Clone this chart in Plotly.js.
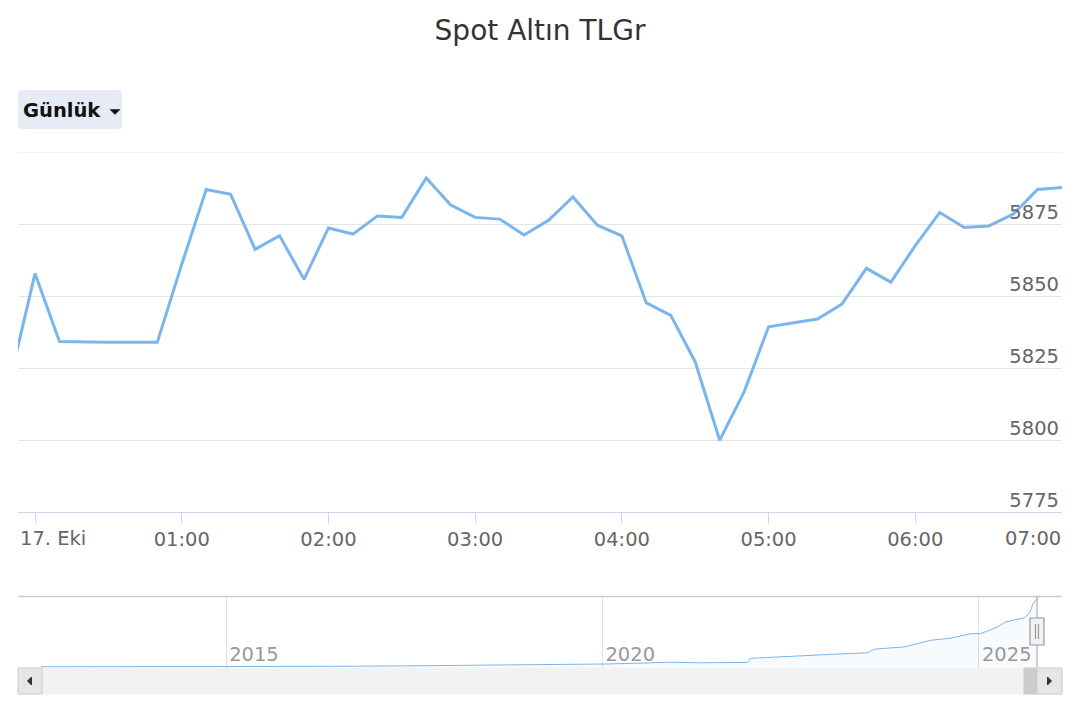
<!DOCTYPE html>
<html>
<head>
<meta charset="utf-8">
<script src="https://cdn.plot.ly/plotly-3.0.1.min.js"></script>
<style>
html,body{margin:0;padding:0;background:#fff;}
#chart{width:1080px;height:720px;}
</style>
</head>
<body>
<div id="chart"></div>
<script>
// ---------- data ----------
const chartTitle = 'Spot Altın TLGr';
const periodLabel = 'Günlük';

const times = [
  '2025-10-16 23:50',
  '2025-10-17 00:00','2025-10-17 00:10','2025-10-17 00:20','2025-10-17 00:30','2025-10-17 00:40','2025-10-17 00:50',
  '2025-10-17 01:00','2025-10-17 01:10','2025-10-17 01:20','2025-10-17 01:30','2025-10-17 01:40','2025-10-17 01:50',
  '2025-10-17 02:00','2025-10-17 02:10','2025-10-17 02:20','2025-10-17 02:30','2025-10-17 02:40','2025-10-17 02:50',
  '2025-10-17 03:00','2025-10-17 03:10','2025-10-17 03:20','2025-10-17 03:30','2025-10-17 03:40','2025-10-17 03:50',
  '2025-10-17 04:00','2025-10-17 04:10','2025-10-17 04:20','2025-10-17 04:30','2025-10-17 04:40','2025-10-17 04:50',
  '2025-10-17 05:00','2025-10-17 05:10','2025-10-17 05:20','2025-10-17 05:30','2025-10-17 05:40','2025-10-17 05:50',
  '2025-10-17 06:00','2025-10-17 06:10','2025-10-17 06:20','2025-10-17 06:30','2025-10-17 06:40','2025-10-17 06:50',
  '2025-10-17 07:00'
];
const prices = [
  5821.6,
  5857.8, 5834.2, 5834.0, 5833.9, 5833.9, 5833.9,
  5861.0, 5887.0, 5885.3, 5866.2, 5870.9, 5855.8,
  5873.6, 5871.5, 5877.8, 5877.3, 5891.0, 5881.6,
  5877.3, 5876.7, 5871.2, 5876.3, 5884.4, 5874.6,
  5870.9, 5847.6, 5843.3, 5827.1, 5799.9, 5816.7,
  5839.3, 5840.7, 5842.0, 5847.2, 5859.6, 5854.8,
  5867.5, 5879.0, 5873.8, 5874.3, 5878.4, 5887.0,
  5887.7
];

const xTickVals = ['2025-10-17 00:00','2025-10-17 01:00','2025-10-17 02:00','2025-10-17 03:00',
                   '2025-10-17 04:00','2025-10-17 05:00','2025-10-17 06:00','2025-10-17 07:00'];
const xTickText = ['17. Eki','01:00','02:00','03:00','04:00','05:00','06:00','07:00'];
const yTickVals = [5775, 5800, 5825, 5850, 5875];
const yTickText = ['5775', '5800', '5825', '5850', '5875'];
const yTop = 5900;

// navigator (long-term history)
const navDates = [
  '2012-07-16','2013-04-20','2014-12-20','2015-12-13','2017-04-12','2018-08-11',
  '2020-01-17','2020-08-08','2020-11-24','2021-04-08','2021-12-06','2021-12-20',
  '2022-04-30','2023-02-17','2023-07-09','2023-08-13','2024-01-08','2024-05-12',
  '2024-08-17','2024-11-22','2025-01-10','2025-04-01','2025-05-07','2025-08-11',
  '2025-09-06','2025-09-20','2025-10-17'
];
const navValues = [
  105, 105, 110, 130, 170, 230,
  330, 420, 480, 430, 460, 800,
  925, 1150, 1250, 1555, 1745, 2290,
  2460, 2840, 2840, 3380, 3790, 4150,
  4610, 5300, 5887.7
];
const navTickVals = ['2015-01-01','2020-01-01','2025-01-01'];
const navTickText = ['2015','2020','2025'];

// ---------- layout helpers (pixel -> paper) ----------
const W = 1080, H = 720;
const px = v => v / W;
const py = v => 1 - v / H;

const FONT = 'DejaVu Sans, Verdana, sans-serif';
const LS = 19.5;

function roundRect(x0, y0, x1, y1, r) {
  const X = px, Y = py;
  return `M ${X(x0 + r)} ${Y(y0)} L ${X(x1 - r)} ${Y(y0)} Q ${X(x1)} ${Y(y0)} ${X(x1)} ${Y(y0 + r)} ` +
         `L ${X(x1)} ${Y(y1 - r)} Q ${X(x1)} ${Y(y1)} ${X(x1 - r)} ${Y(y1)} ` +
         `L ${X(x0 + r)} ${Y(y1)} Q ${X(x0)} ${Y(y1)} ${X(x0)} ${Y(y1 - r)} ` +
         `L ${X(x0)} ${Y(y0 + r)} Q ${X(x0)} ${Y(y0)} ${X(x0 + r)} ${Y(y0)} Z`;
}

const mainLine = {
  x: times, y: prices, type: 'scatter', mode: 'lines',
  line: {color: '#7cb5ec', width: 3},
  xaxis: 'x', yaxis: 'y', hoverinfo: 'x+y', showlegend: false
};
const navLine = {
  x: navDates, y: navValues, type: 'scatter', mode: 'lines',
  line: {color: '#7cb5ec', width: 1}, fill: 'tozeroy',
  fillcolor: 'rgba(124,181,236,0.06)',
  xaxis: 'x2', yaxis: 'y2', hoverinfo: 'skip', showlegend: false
};

const shapes = [
  // top gridline of the price axis
  {type: 'line', xref: 'paper', yref: 'y', x0: px(18), x1: px(1062), y0: yTop, y1: yTop,
   line: {color: '#e6e6e6', width: 1}, layer: 'below'},
  // period button background
  {type: 'path', xref: 'paper', yref: 'paper', path: roundRect(18, 90, 122, 129, 3),
   fillcolor: '#e6ebf5', line: {width: 0}, layer: 'below'},
  // button caret
  {type: 'path', xref: 'paper', yref: 'paper',
   path: `M ${px(110)} ${py(109.5)} L ${px(120)} ${py(109.5)} L ${px(115)} ${py(114.5)} Z`,
   fillcolor: '#111111', line: {color: '#111111', width: 0.5}},
  // navigator top outline
  {type: 'line', xref: 'paper', yref: 'paper', x0: px(18), x1: px(1062), y0: py(596.5), y1: py(596.5),
   line: {color: '#cccccc', width: 1.5}},
  // navigator selection edge
  {type: 'line', xref: 'paper', yref: 'paper', x0: px(1037), x1: px(1037), y0: py(668), y1: py(596.5),
   line: {color: '#b3b3b3', width: 1.2}},
  // scrollbar track
  {type: 'rect', xref: 'paper', yref: 'paper', x0: px(18), x1: px(1062), y0: py(694), y1: py(668),
   fillcolor: '#f2f2f2', line: {color: '#f2f2f2', width: 1}},
  // scrollbar thumb
  {type: 'rect', xref: 'paper', yref: 'paper', x0: px(1024), x1: px(1037), y0: py(694), y1: py(668),
   fillcolor: '#cccccc', line: {color: '#cccccc', width: 1}},
  // left button
  {type: 'rect', xref: 'paper', yref: 'paper', x0: px(18), x1: px(42), y0: py(694), y1: py(668),
   fillcolor: '#e6e6e6', line: {color: '#cccccc', width: 1}},
  // right button
  {type: 'rect', xref: 'paper', yref: 'paper', x0: px(1037), x1: px(1062), y0: py(694), y1: py(668),
   fillcolor: '#e6e6e6', line: {color: '#cccccc', width: 1}},
  // left arrow
  {type: 'path', xref: 'paper', yref: 'paper',
   path: `M ${px(31.5)} ${py(677)} L ${px(27.5)} ${py(681)} L ${px(31.5)} ${py(685)} Z`,
   fillcolor: '#333333', line: {color: '#333333', width: 1}},
  // right arrow
  {type: 'path', xref: 'paper', yref: 'paper',
   path: `M ${px(1047.5)} ${py(677)} L ${px(1051.5)} ${py(681)} L ${px(1047.5)} ${py(685)} Z`,
   fillcolor: '#333333', line: {color: '#333333', width: 1}},
  // navigator handle
  {type: 'rect', xref: 'paper', yref: 'paper', x0: px(1030), x1: px(1044), y0: py(645), y1: py(618),
   fillcolor: '#f2f2f2', line: {color: '#999999', width: 1.2}},
  {type: 'line', xref: 'paper', yref: 'paper', x0: px(1035.5), x1: px(1035.5), y0: py(639), y1: py(624),
   line: {color: '#999999', width: 1.2}},
  {type: 'line', xref: 'paper', yref: 'paper', x0: px(1038.5), x1: px(1038.5), y0: py(639), y1: py(624),
   line: {color: '#999999', width: 1.2}}
];

const annotations = [
  {xref: 'paper', yref: 'paper', x: px(21), y: py(110), xanchor: 'left', yanchor: 'middle',
   text: '<b>' + periodLabel + '</b>', showarrow: false,
   font: {family: FONT, size: 19.5, color: '#111111'}},
  // edge tick labels (shifted inside like the original)
  {xref: 'x', yref: 'paper', x: xTickVals[0], y: py(538), xanchor: 'left', yanchor: 'middle',
   xshift: -17, text: xTickText[0], showarrow: false, font: {family: FONT, size: LS, color: '#666666'}},
  {xref: 'x', yref: 'paper', x: xTickVals[7], y: py(538), xanchor: 'right', yanchor: 'middle',
   xshift: 1, text: xTickText[7], showarrow: false, font: {family: FONT, size: LS, color: '#666666'}}
];

const axisTickText = xTickText.map((t, i) => (i === 0 || i === xTickText.length - 1) ? '' : t);

const layout = {
  width: W, height: H,
  margin: {l: 0, r: 0, t: 0, b: 0, pad: 0},
  paper_bgcolor: '#ffffff', plot_bgcolor: '#ffffff',
  font: {family: FONT, color: '#666666'},
  title: {text: chartTitle, x: 0.5, xanchor: 'center', xref: 'paper',
          y: py(30), yanchor: 'middle', yref: 'container',
          font: {family: FONT, size: 28, color: '#333333'}},
  showlegend: false,
  xaxis: {
    domain: [px(18), px(1062)], anchor: 'y', type: 'date',
    range: ['2025-10-16 23:53:02', '2025-10-17 07:00'],
    tickmode: 'array', tickvals: xTickVals, ticktext: axisTickText,
    ticks: 'outside', ticklen: 10, tickcolor: '#ccd6eb', tickwidth: 1,
    showline: true, linecolor: '#ccd6eb', linewidth: 1,
    showgrid: false, zeroline: false,
    tickfont: {family: FONT, size: LS, color: '#666666'},
    fixedrange: true
  },
  yaxis: {
    domain: [1 - 512 / H, 1 - 152 / H], anchor: 'x', side: 'right',
    range: [5775, yTop],
    tickmode: 'array', tickvals: yTickVals, ticktext: yTickText,
    ticklabelposition: 'inside', ticklabelshift: -12, ticks: '',
    showgrid: true, gridcolor: '#e6e6e6', gridwidth: 1,
    zeroline: false, showline: false,
    tickfont: {family: FONT, size: LS, color: '#666666'},
    fixedrange: true
  },
  xaxis2: {
    domain: [px(18), px(1062)], anchor: 'y2', type: 'date',
    range: ['2012-03-27', '2026-02-08'],
    tickmode: 'array', tickvals: navTickVals, ticktext: navTickText,
    ticklabelposition: 'inside right', ticklabelstandoff: -3, ticklabelshift: 3, ticks: '',
    showgrid: true, gridcolor: '#e0e0e0', gridwidth: 1,
    showline: false, zeroline: false,
    tickfont: {family: FONT, size: LS, color: '#999999'},
    fixedrange: true
  },
  yaxis2: {
    domain: [1 - 668 / H, 1 - 596.5 / H], anchor: 'x2',
    range: [0, 5900],
    showticklabels: false, showgrid: false, zeroline: false, showline: false, ticks: '',
    fixedrange: true
  },
  shapes: shapes,
  annotations: annotations
};

Plotly.newPlot('chart', [navLine, mainLine], layout, {displayModeBar: false, staticPlot: true});
</script>
</body>
</html>
